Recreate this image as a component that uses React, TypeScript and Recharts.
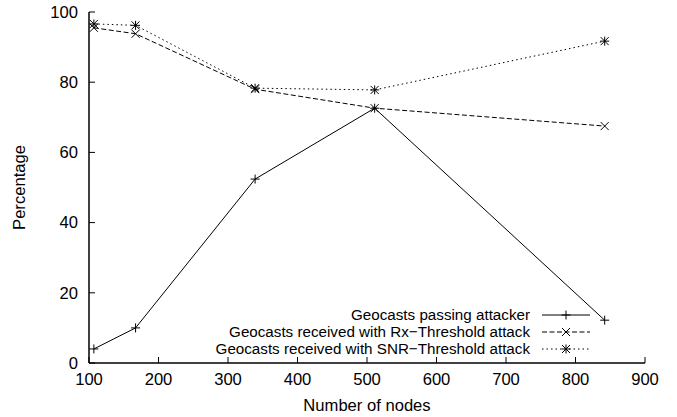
import { LineChart, Line, XAxis, YAxis, Legend } from 'recharts'

// values
const nodes = [107, 167, 339, 511, 842]
const passing = [4.0, 10.0, 52.4, 72.6, 12.2]
const rxThreshold = [95.5, 93.8, 78.0, 72.6, 67.5]
const snrThreshold = [96.6, 96.2, 78.3, 77.8, 91.7]

const xTicks = [100, 200, 300, 400, 500, 600, 700, 800, 900]
const yTicks = [0, 20, 40, 60, 80, 100]

const seriesKeys = ['passing', 'rx', 'snr']
const seriesNames = [
  'Geocasts passing attacker',
  'Geocasts received with Rx\u2212Threshold attack',
  'Geocasts received with SNR\u2212Threshold attack',
]
const seriesDash = [undefined, '5 2.5', '1.5 3']
const seriesMarker = ['plus', 'cross', 'star']

const data = nodes.map((n, i) => ({
  n,
  passing: passing[i],
  rx: rxThreshold[i],
  snr: snrThreshold[i],
}))

const FONT = '"Liberation Sans", Arial, Helvetica, sans-serif'
const FS = 16.6
const KEY_FS = 15.2
const ROW = 17.2
const frame = { stroke: '#000', strokeWidth: 1.5 }

function Marker({ cx, cy, kind }: { cx: number; cy: number; kind: string }) {
  const s = 4.5
  const d = 4
  const lines: number[][] = []
  if (kind === 'plus' || kind === 'star') {
    lines.push([cx - s, cy, cx + s, cy], [cx, cy - s, cx, cy + s])
  }
  if (kind === 'cross' || kind === 'star') {
    lines.push([cx - d, cy - d, cx + d, cy + d], [cx - d, cy + d, cx + d, cy - d])
  }
  return (
    <g>
      {lines.map((l, i) => (
        <line key={i} x1={l[0]} y1={l[1]} x2={l[2]} y2={l[3]} stroke="#000" strokeWidth={1} />
      ))}
    </g>
  )
}

function KeyBox() {
  return (
    <div style={{ fontFamily: FONT, fontSize: KEY_FS, color: '#000' }}>
      {seriesNames.map((name, i) => (
        <div key={name} style={{ display: 'flex', alignItems: 'center', height: ROW }}>
          <span style={{ width: 350, textAlign: 'right', whiteSpace: 'nowrap', lineHeight: `${ROW}px` }}>{name}</span>
          <svg width={48} height={16} style={{ marginLeft: 12, display: 'block' }}>
            <line x1={0} y1={8} x2={48} y2={8} stroke="#000" strokeWidth={1} strokeDasharray={seriesDash[i]} />
            <Marker cx={24} cy={8} kind={seriesMarker[i]} />
          </svg>
        </div>
      ))}
    </div>
  )
}

export default function App() {
  return (
    <div style={{ position: 'absolute', left: 0, top: 0, background: '#fff' }}>
      <LineChart
        width={677}
        height={417}
        data={data}
        margin={{ top: 12, right: 32, bottom: 0, left: 0 }}
        style={{ fontFamily: FONT }}
      >
        <XAxis
          dataKey="n"
          type="number"
          domain={[100, 900]}
          ticks={xTicks}
          interval={0}
          height={54}
          tickSize={-6}
          tickMargin={16}
          tick={{ fill: '#000', fontSize: FS }}
          axisLine={frame}
          tickLine={{ stroke: '#000' }}
          label={{ value: 'Number of nodes', position: 'insideBottom', offset: 6, fill: '#000', fontSize: FS }}
        />
        <XAxis
          xAxisId="top"
          orientation="top"
          dataKey="n"
          type="number"
          domain={[100, 900]}
          ticks={xTicks}
          interval={0}
          height={0}
          tickSize={-6}
          tick={false}
          axisLine={frame}
          tickLine={{ stroke: '#000' }}
        />
        <YAxis
          type="number"
          domain={[0, 100]}
          ticks={yTicks}
          interval={0}
          width={89}
          tickSize={-6}
          tickMargin={17}
          tick={{ fill: '#000', fontSize: FS }}
          axisLine={frame}
          tickLine={{ stroke: '#000' }}
          label={{
            value: 'Percentage',
            angle: -90,
            position: 'insideLeft',
            offset: 19,
            fill: '#000',
            fontSize: FS,
            style: { textAnchor: 'middle' },
          }}
        />
        <YAxis
          yAxisId="right"
          orientation="right"
          type="number"
          domain={[0, 100]}
          ticks={yTicks}
          interval={0}
          width={0}
          tickSize={-6}
          tick={false}
          axisLine={frame}
          tickLine={{ stroke: '#000' }}
        />
        <Legend
          layout="vertical"
          align="center"
          verticalAlign="middle"
          content={() => <KeyBox />}
          wrapperStyle={{ left: 180, top: 306, width: 420, height: 52 }}
        />
        {seriesKeys.map((k, i) => (
          <Line
            key={k}
            dataKey={k}
            name={seriesNames[i]}
            type="linear"
            stroke="#000"
            strokeWidth={1}
            strokeDasharray={seriesDash[i]}
            dot={(p: any) => <Marker key={p.index} cx={p.cx} cy={p.cy} kind={seriesMarker[i]} />}
            activeDot={false}
            isAnimationActive={false}
          />
        ))}
      </LineChart>
    </div>
  )
}
